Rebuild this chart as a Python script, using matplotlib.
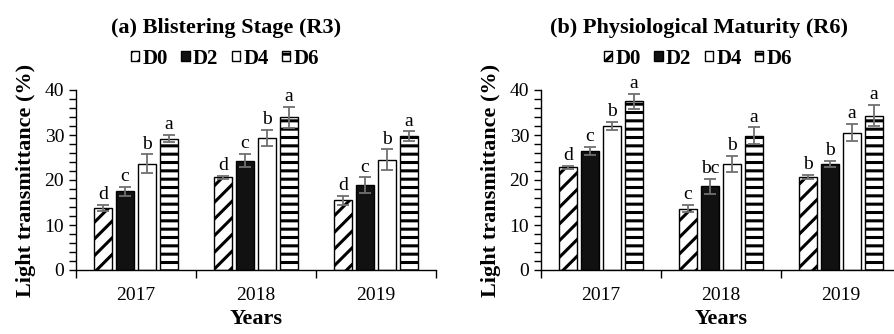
import numpy as np
import matplotlib
matplotlib.use("Agg")
import matplotlib.pyplot as plt
from matplotlib.patches import Patch
from matplotlib.ticker import MultipleLocator

plt.rcParams['font.family'] = ['Liberation Serif', 'DejaVu Serif']
plt.rcParams['hatch.linewidth'] = 2.2
plt.rcParams['hatch.color'] = 'black'

# data
years = ['2017', '2018', '2019']
treatments = ['D0', 'D2', 'D4', 'D6']

r3_mean = {'D0': [13.8, 20.6, 15.5], 'D2': [17.5, 24.3, 18.9],
           'D4': [23.6, 29.4, 24.5], 'D6': [29.2, 33.9, 29.7]}
r3_err = {'D0': [0.6, 0.4, 1.0], 'D2': [1.0, 1.5, 1.7],
          'D4': [2.1, 1.8, 2.3], 'D6': [0.8, 2.3, 1.1]}
r3_letters = {'D0': ['d', 'd', 'd'], 'D2': ['c', 'c', 'c'],
              'D4': ['b', 'b', 'b'], 'D6': ['a', 'a', 'a']}

r6_mean = {'D0': [22.8, 13.6, 20.7], 'D2': [26.5, 18.6, 23.6],
           'D4': [32.0, 23.5, 30.5], 'D6': [37.5, 29.8, 34.3]}
r6_err = {'D0': [0.4, 0.8, 0.5], 'D2': [0.9, 1.7, 0.7],
          'D4': [0.9, 1.8, 1.9], 'D6': [1.7, 1.9, 2.4]}
r6_letters = {'D0': ['d', 'c', 'b'], 'D2': ['c', 'bc', 'b'],
              'D4': ['b', 'b', 'a'], 'D6': ['a', 'a', 'a']}

styles = {'D0': dict(facecolor='white', hatch='//'),
          'D2': dict(facecolor='#111111', hatch=None),
          'D4': dict(facecolor='white', hatch=None),
          'D6': dict(facecolor='white', hatch='--')}

fig = plt.figure(figsize=(8.94, 3.34), dpi=100)
W, H = 894, 334
ax1 = fig.add_axes([76 / W, 1 - 270 / H, 360 / W, 180 / H])
ax2 = fig.add_axes([541 / W, 1 - 270 / H, 360 / W, 180 / H])

bw = 0.15
step = 0.183
x = np.arange(len(years)) + 0.5


def draw(ax, means, errs, letters, title, head_x):
    for i, t in enumerate(treatments):
        pos = x + (i - 1.5) * step
        st = styles[t]
        ax.bar(pos, means[t], width=bw, facecolor=st['facecolor'], hatch=st['hatch'],
               edgecolor='black', linewidth=1.0, zorder=2)
        ax.errorbar(pos, means[t], yerr=errs[t], fmt='none', ecolor='#707070',
                    elinewidth=1.3, capsize=4.5, capthick=1.3, zorder=3)
        for p, m, e, lab in zip(pos, means[t], errs[t], letters[t]):
            ax.text(p, m + e + 0.4, lab, ha='center', va='bottom', fontsize=14)
    ax.set_xlim(0, 3)
    ax.set_ylim(0, 40)
    ax.yaxis.set_major_locator(MultipleLocator(10))
    ax.yaxis.set_minor_locator(MultipleLocator(2))
    ax.set_xticks(x)
    ax.set_xticklabels(years)
    ax.set_xticks([0, 1, 2, 3], minor=True)
    ax.tick_params(axis='x', which='major', length=0, labelsize=14, pad=12)
    ax.tick_params(axis='x', which='minor', length=6, width=1, direction='out')
    ax.tick_params(axis='y', which='both', length=5, width=1, direction='out', labelsize=14)
    for s in ['top', 'right']:
        ax.spines[s].set_visible(False)
    ax.spines['left'].set_linewidth(1)
    ax.spines['bottom'].set_linewidth(1)
    ax.set_xlabel('Years', fontsize=16, fontweight='bold', labelpad=4)
    ax.set_ylabel('Light transmittance (%)', fontsize=16, fontweight='bold', labelpad=6)
    ax.text(head_x, 1.345, title, transform=ax.transAxes, ha='center', va='center',
            fontsize=16, fontweight='bold')
    handles = [Patch(facecolor=styles[t]['facecolor'], hatch=styles[t]['hatch'],
                     edgecolor='black', linewidth=1.0, label=t) for t in treatments]
    ax.legend(handles=handles, loc='center', bbox_to_anchor=(head_x - 0.003, 1.175), ncol=4,
              frameon=False, handlelength=0.4, handleheight=0.4, handletextpad=0.15,
              columnspacing=0.65, borderpad=0, prop={'weight': 'bold', 'size': 15})


draw(ax1, r3_mean, r3_err, r3_letters, '(a) Blistering Stage (R3)', 0.417)
draw(ax2, r6_mean, r6_err, r6_letters, '(b) Physiological Maturity (R6)', 0.439)

fig.savefig('out.png', dpi=100)
